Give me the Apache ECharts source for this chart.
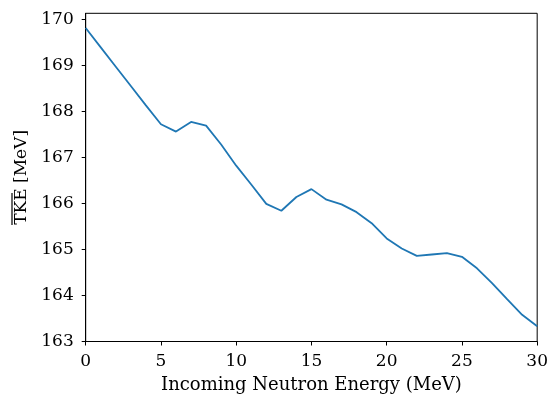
<!DOCTYPE html>
<html>
<head>
<meta charset="utf-8">
<script src="https://cdn.jsdelivr.net/npm/echarts@6/dist/echarts.min.js"></script>
<style>
  html, body { margin: 0; padding: 0; background: #fff; }
  #chart { width: 551px; height: 399px; }
</style>
</head>
<body>
<div id="chart"></div>
<script>
// Mean total kinetic energy of fission fragments vs incoming neutron energy
const energies = [0, 1, 2, 3, 4, 5, 6, 7, 8, 9, 10, 11, 12, 13, 14, 15, 16, 17, 18, 19, 20, 21, 22, 23, 24, 25, 26, 27, 28, 29, 30];
const tkeMean = [169.81, 169.39, 168.97, 168.55, 168.13, 167.72, 167.56, 167.77, 167.69, 167.28, 166.82, 166.41, 165.99, 165.84, 166.14, 166.31, 166.08, 165.98, 165.81, 165.57, 165.24, 165.02, 164.86, 164.89, 164.92, 164.84, 164.59, 164.27, 163.92, 163.58, 163.33];
const xTicks = [0, 5, 10, 15, 20, 25, 30];
const yTicks = [163, 164, 165, 166, 167, 168, 169, 170];

const font = 'DejaVu Serif';
const fs = 17;
const chart = echarts.init(document.getElementById('chart'), null, { renderer: 'canvas' });

chart.setOption({
  animation: false,
  backgroundColor: '#ffffff',
  grid: {
    left: 85.7, right: 12.3, top: 13.3, bottom: 55,
    show: true, borderColor: '#000', borderWidth: 1, backgroundColor: 'transparent'
  },
  xAxis: {
    type: 'value', min: 0, max: 30,
    name: 'Incoming Neutron Energy (MeV)',
    nameLocation: 'middle', nameGap: 34.5,
    nameTextStyle: { fontFamily: font, fontSize: 18, color: '#000' },
    axisLine: { lineStyle: { color: '#000', width: 1 } },
    axisTick: { show: true, length: 4, lineStyle: { color: '#000', width: 1 }, customValues: xTicks },
    axisLabel: { fontFamily: font, fontSize: fs, color: '#000', margin: 12, customValues: xTicks },
    splitLine: { show: false }
  },
  yAxis: {
    type: 'value', min: 163, max: 170.13,
    name: 'TKE [MeV]',
    nameLocation: 'middle', nameGap: 54.5, nameRotate: 90,
    nameTextStyle: { fontFamily: font, fontSize: fs, color: '#000' },
    axisLine: { show: true, lineStyle: { color: '#000', width: 1 } },
    axisTick: { show: true, length: 4, lineStyle: { color: '#000', width: 1 }, customValues: yTicks },
    axisLabel: { fontFamily: font, fontSize: fs, color: '#000', margin: 12, customValues: yTicks },
    splitLine: { show: false }
  },
  // overbar above "TKE" in the rotated axis title
  graphic: [{
    type: 'line',
    shape: { x1: 12, y1: 193, x2: 12, y2: 225 },
    style: { stroke: '#000', lineWidth: 1.2 }
  }],
  series: [{
    type: 'line',
    data: energies.map((e, i) => [e, tkeMean[i]]),
    showSymbol: false,
    lineStyle: { color: '#1f77b4', width: 1.8 },
    clip: true
  }]
});
</script>
</body>
</html>
